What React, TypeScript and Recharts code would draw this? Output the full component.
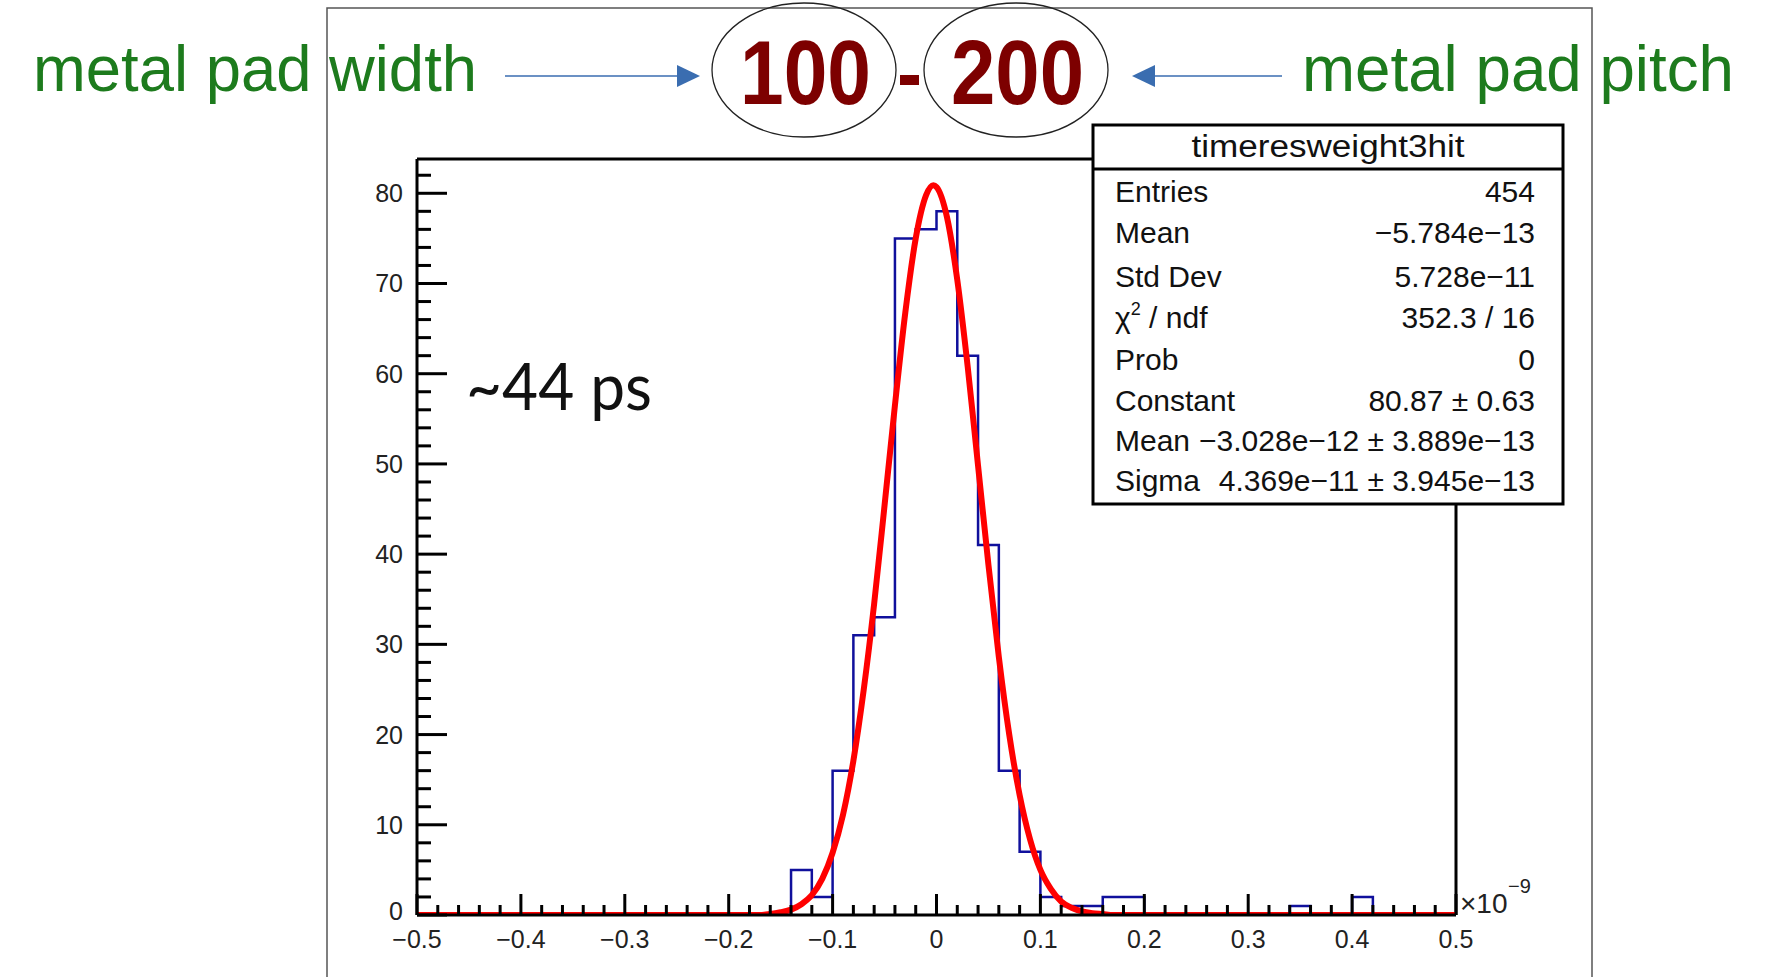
import React from 'react'
import { ComposedChart, Line, XAxis, YAxis, ReferenceLine } from 'recharts'

// histogram: bin edges (units of 1e-9 s, width 0.02) and counts per bin
const BIN_EDGES = [
  -0.5, -0.48, -0.46, -0.44, -0.42, -0.4, -0.38, -0.36, -0.34, -0.32,
  -0.3, -0.28, -0.26, -0.24, -0.22, -0.2, -0.18, -0.16, -0.14, -0.12,
  -0.1, -0.08, -0.06, -0.04, -0.02, 0, 0.02, 0.04, 0.06, 0.08,
  0.1, 0.12, 0.14, 0.16, 0.18, 0.2, 0.22, 0.24, 0.26, 0.28,
  0.3, 0.32, 0.34, 0.36, 0.38, 0.4, 0.42, 0.44, 0.46, 0.48, 0.5,
]
const BIN_COUNTS = [
  0, 0, 0, 0, 0, 0, 0, 0, 0, 0,
  0, 0, 0, 0, 0, 0, 0, 0, 5, 2,
  16, 31, 33, 75, 76, 78, 62, 41, 16, 7,
  2, 1, 1, 2, 2, 0, 0, 0, 0, 0,
  0, 0, 1, 0, 0, 2, 0, 0, 0, 0,
]

// gaus fit curve
const FIT_X = [
  -0.5, -0.3, -0.2, -0.17, -0.16, -0.15, -0.14, -0.13, -0.12, -0.11,
  -0.1, -0.09, -0.08, -0.07, -0.06, -0.05, -0.04, -0.03, -0.02, -0.01,
  -0.003, 0, 0.01, 0.02, 0.03, 0.04, 0.05, 0.06, 0.07, 0.08,
  0.09, 0.1, 0.11, 0.12, 0.13, 0.14, 0.15, 0.16, 0.17, 0.2, 0.3, 0.5,
]
const FIT_Y = [
  0, 0, 0, 0, 0.1, 0.3, 0.6, 1.2, 2.2, 4.0,
  6.9, 11.1, 17.1, 25.0, 34.5, 45.4, 56.5, 66.8, 75.0, 79.8,
  80.9, 80.7, 77.4, 70.4, 60.8, 49.8, 38.8, 28.6, 20.0, 13.3,
  8.4, 5.0, 2.9, 1.5, 0.8, 0.4, 0.2, 0.1, 0, 0, 0, 0,
]

const Y_MAX = 83.8
const Y_TICKS = Array.from({ length: 42 }, (_, i) => i * 2)

const STATS_TITLE = 'timeresweight3hit'
const STATS_LABELS = ['Entries', 'Mean', 'Std Dev', 'chi2', 'Prob', 'Constant', 'Mean', 'Sigma']
const STATS_VALUES = [
  '454', '\u22125.784e\u221213', '5.728e\u221211', '352.3 / 16', '0',
  '80.87 \u00b1 0.63', '\u22123.028e\u221212 \u00b1 3.889e\u221213', '4.369e\u221211 \u00b1 3.945e\u221213',
]

const FONT = "'Liberation Sans', Arial, sans-serif"
const Y_MARGIN = 14
const X_MARGIN = 8

const histData = BIN_EDGES.map((x, i) => ({ x, n: BIN_COUNTS[Math.min(i, BIN_COUNTS.length - 1)] }))
const fitData = FIT_X.map((x, i) => ({ x, f: FIT_Y[i] }))

const fmtX = (v: number) => {
  if (Math.abs(v) < 1e-9) return '0'
  return (v < 0 ? '\u2212' : '') + Math.abs(v).toFixed(1)
}

const YTick = (props: any) => {
  const { x, y, payload } = props
  const v = payload.value
  const major = v % 10 === 0
  const ax = x + Y_MARGIN
  return (
    <g>
      <line x1={ax} x2={ax + (major ? 30 : 14)} y1={y} y2={y} stroke="#000" strokeWidth={3} />
      {major && (
        <text x={x} y={y} dy={v === 0 ? '0.2em' : '0.36em'} textAnchor="end" fontFamily={FONT} fontSize={25} fill="#222">
          {v}
        </text>
      )}
    </g>
  )
}

const XTick = (props: any) => {
  const { x, y, payload } = props
  const v = payload.value
  const major = Math.abs(Math.round(v * 10) - v * 10) < 1e-6
  const ay = y - X_MARGIN
  return (
    <g>
      <line x1={x} x2={x} y1={ay} y2={ay - (major ? 21 : 10)} stroke="#000" strokeWidth={3} />
      {major && (
        <text x={x} y={ay + 33} textAnchor="middle" fontFamily={FONT} fontSize={25} fill="#222">
          {fmtX(v)}
        </text>
      )}
    </g>
  )
}

const ROW_Y = [202, 243, 287, 328, 370, 411, 451, 491]

export default function App() {
  return (
    <div style={{ position: 'absolute', left: 0, top: 0, width: 1779, height: 977, background: '#fff', overflow: 'hidden' }}>
      <div style={{ position: 'absolute', left: 327, top: 8 }}>
        <ComposedChart width={1265} height={969} margin={{ top: 151, right: 136, bottom: 0, left: 0 }}>
          <XAxis
            dataKey="x"
            type="number"
            domain={[-0.5, 0.5]}
            allowDataOverflow
            ticks={BIN_EDGES}
            interval={0}
            tick={XTick}
            tickLine={false}
            tickSize={0}
            tickMargin={X_MARGIN}
            height={62}
            axisLine={{ stroke: '#000', strokeWidth: 3 }}
          />
          <YAxis
            type="number"
            domain={[0, Y_MAX]}
            allowDataOverflow
            ticks={Y_TICKS}
            interval={0}
            tick={YTick}
            tickLine={false}
            tickSize={0}
            tickMargin={Y_MARGIN}
            width={90}
            axisLine={{ stroke: '#000', strokeWidth: 3 }}
          />
          <ReferenceLine y={Y_MAX} stroke="#000" strokeWidth={3} />
          <ReferenceLine x={0.5} stroke="#000" strokeWidth={3} />
          <Line
            data={histData}
            dataKey="n"
            type="stepAfter"
            stroke="#10109c"
            strokeWidth={2.5}
            dot={false}
            isAnimationActive={false}
          />
          <Line
            data={fitData}
            dataKey="f"
            type="monotone"
            stroke="#ff0000"
            strokeWidth={6}
            dot={false}
            isAnimationActive={false}
          />
        </ComposedChart>
      </div>

      <svg width={1779} height={977} style={{ position: 'absolute', left: 0, top: 0, pointerEvents: 'none' }}>
        {/* canvas frame */}
        <rect x={327} y={8} width={1265} height={990} fill="none" stroke="#555" strokeWidth={1.5} />

        {/* header annotations */}
        <text x={33} y={91} fontFamily={FONT} fontSize={64} fill="#1d7b1d" textLength={444} lengthAdjust="spacingAndGlyphs">
          metal pad width
        </text>
        <text x={1302} y={91} fontFamily={FONT} fontSize={64} fill="#1d7b1d" textLength={432} lengthAdjust="spacingAndGlyphs">
          metal pad pitch
        </text>
        <line x1={505} x2={680} y1={76} y2={76} stroke="#3a6db0" strokeWidth={1.5} />
        <polygon points="700,76 677,65 677,87" fill="#3a6db0" />
        <line x1={1152} x2={1282} y1={76} y2={76} stroke="#3a6db0" strokeWidth={1.5} />
        <polygon points="1132,76 1155,65 1155,87" fill="#3a6db0" />
        <ellipse cx={804} cy={70} rx={92} ry={67} fill="none" stroke="#222" strokeWidth={1.3} />
        <ellipse cx={1016} cy={70} rx={92} ry={67} fill="none" stroke="#222" strokeWidth={1.3} />
        <text x={740} y={104} fontFamily={FONT} fontWeight="bold" fontSize={90} fill="#7d0000" textLength={131} lengthAdjust="spacingAndGlyphs">
          100
        </text>
        <rect x={900} y={75} width={19} height={10} fill="#7d0000" />
        <text x={951} y={104} fontFamily={FONT} fontWeight="bold" fontSize={90} fill="#7d0000" textLength={133} lengthAdjust="spacingAndGlyphs">
          200
        </text>

        {/* resolution note */}
        <text x={466} y={410} fontFamily="Lato, 'Open Sans', sans-serif" fontSize={66} fill="#111" textLength={186} lengthAdjust="spacingAndGlyphs">
          ~44 ps
        </text>

        {/* axis exponent */}
        <text x={1460} y={913} fontFamily={FONT} fontSize={28} fill="#222">{'\u00d710'}</text>
        <text x={1508} y={893} fontFamily={FONT} fontSize={20} fill="#222">{'\u22129'}</text>

        {/* stats box */}
        <rect x={1093} y={125} width={470} height={379} fill="#fff" stroke="#000" strokeWidth={3} />
        <line x1={1093} x2={1563} y1={169} y2={169} stroke="#000" strokeWidth={3} />
        <text x={1328} y={157} textAnchor="middle" fontFamily={FONT} fontSize={31} fill="#111" textLength={273} lengthAdjust="spacingAndGlyphs">
          {STATS_TITLE}
        </text>
        {STATS_LABELS.map((lab, i) => (
          <text key={'l' + i} x={1115} y={ROW_Y[i]} fontFamily={FONT} fontSize={30} fill="#111">
            {lab === 'chi2' ? (
              <>
                <tspan>{'\u03c7'}</tspan>
                <tspan dy={-13} fontSize={18}>2</tspan>
                <tspan dy={13}>{' / ndf'}</tspan>
              </>
            ) : lab}
          </text>
        ))}
        {STATS_VALUES.map((val, i) => (
          <text key={'v' + i} x={1535} y={ROW_Y[i]} textAnchor="end" fontFamily={FONT} fontSize={30} fill="#111">
            {val}
          </text>
        ))}
      </svg>
    </div>
  )
}
